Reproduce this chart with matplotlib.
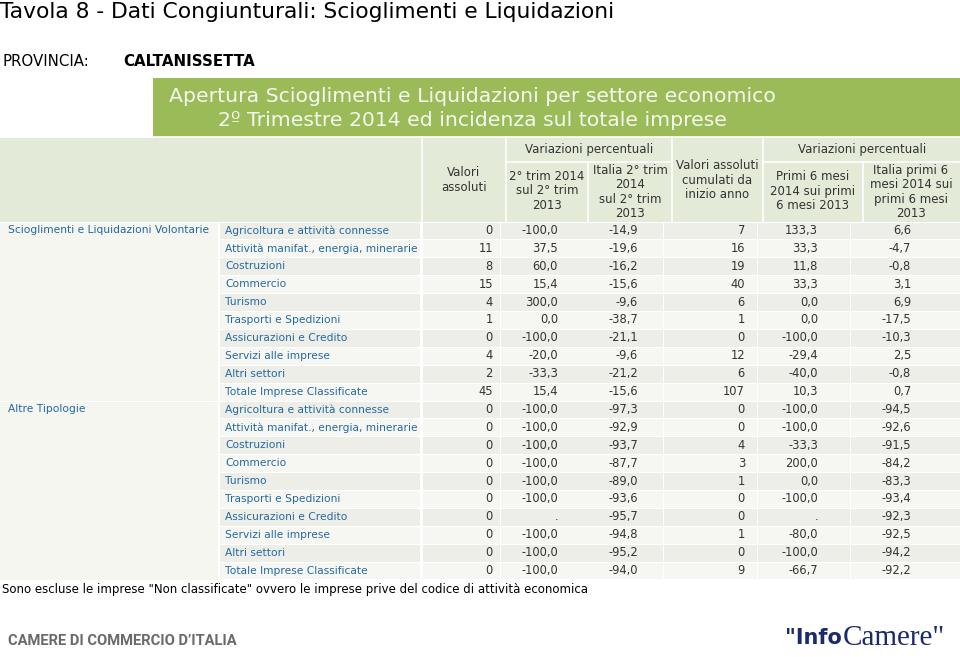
import matplotlib.pyplot as plt
from matplotlib.patches import Rectangle

# dati della tabella
categorie = ["Scioglimenti e Liquidazioni Volontarie", "Altre Tipologie"]
settori = ["Agricoltura e attività connesse",
           "Attività manifat., energia, minerarie",
           "Costruzioni", "Commercio", "Turismo",
           "Trasporti e Spedizioni", "Assicurazioni e Credito",
           "Servizi alle imprese", "Altri settori",
           "Totale Imprese Classificate"]

# Scioglimenti e Liquidazioni Volontarie
vol_valori = [0, 11, 8, 15, 4, 1, 0, 4, 2, 45]
vol_var_trim = [-100.0, 37.5, 60.0, 15.4, 300.0, 0.0, -100.0, -20.0, -33.3, 15.4]
vol_ita_trim = [-14.9, -19.6, -16.2, -15.6, -9.6, -38.7, -21.1, -9.6, -21.2, -15.6]
vol_cumulati = [7, 16, 19, 40, 6, 1, 0, 12, 6, 107]
vol_var_sem = [133.3, 33.3, 11.8, 33.3, 0.0, 0.0, -100.0, -29.4, -40.0, 10.3]
vol_ita_sem = [6.6, -4.7, -0.8, 3.1, 6.9, -17.5, -10.3, 2.5, -0.8, 0.7]

# Altre Tipologie
alt_valori = [0, 0, 0, 0, 0, 0, 0, 0, 0, 0]
alt_var_trim = [-100.0, -100.0, -100.0, -100.0, -100.0, -100.0, None, -100.0, -100.0, -100.0]
alt_ita_trim = [-97.3, -92.9, -93.7, -87.7, -89.0, -93.6, -95.7, -94.8, -95.2, -94.0]
alt_cumulati = [0, 0, 4, 3, 1, 0, 0, 1, 0, 9]
alt_var_sem = [-100.0, -100.0, -33.3, 200.0, 0.0, -100.0, None, -80.0, -100.0, -66.7]
alt_ita_sem = [-94.5, -92.6, -91.5, -84.2, -83.3, -93.4, -92.3, -92.5, -94.2, -92.2]

intestazioni = ["Valori\nassoluti",
                "2° trim 2014\nsul 2° trim\n2013",
                "Italia 2° trim\n2014\nsul 2° trim\n2013",
                "Valori assoluti\ncumulati da\ninizio anno",
                "Primi 6 mesi\n2014 sui primi\n6 mesi 2013",
                "Italia primi 6\nmesi 2014 sui\nprimi 6 mesi\n2013"]

GREEN = "#9BBB59"
HEAD_BG = "#E4EAD8"
ROW_DARK = "#EDEEE8"
ROW_LIGHT = "#F6F7F2"
CAT_BG = "#F4F6EF"
BLUE = "#2468A2"
TXT = "#333333"


def fmt(v, dec):
    if v is None:
        return "."
    if dec:
        return ("%.1f" % v).replace(".", ",")
    return str(v)


fig = plt.figure(figsize=(9.6, 6.57), dpi=100)
ax = fig.add_axes([0, 0, 1, 1])
ax.set_xlim(0, 960)
ax.set_ylim(657, 0)
ax.axis("off")

ax.text(0, 12, "Tavola 8 - Dati Congiunturali: Scioglimenti e Liquidazioni",
        fontsize=15.7, va="center", ha="left", color="black")
ax.text(2, 62, "PROVINCIA:", fontsize=10.8, va="center", color="black")
ax.text(123, 62, "CALTANISSETTA", fontsize=10.8, va="center", weight="bold", color="black")

# fascia verde
ax.add_patch(Rectangle((153, 78), 807, 59, color=GREEN, lw=0))
ax.text(472, 96, "Apertura Scioglimenti e Liquidazioni per settore economico",
        fontsize=14.7, ha="center", va="center", color="#F4F7EE")
ax.text(472, 121, "2º Trimestre 2014 ed incidenza sul totale imprese",
        fontsize=14.7, ha="center", va="center", color="#F4F7EE")

# intestazione
ax.add_patch(Rectangle((0, 137), 960, 85, color=HEAD_BG, lw=0))
for x in [422, 506, 672, 763]:
    ax.plot([x, x], [137, 222], color="white", lw=1.2)
for x in [588, 863]:
    ax.plot([x, x], [162, 222], color="white", lw=1.2)
ax.plot([506, 672], [162, 162], color="white", lw=1.2)
ax.plot([763, 960], [162, 162], color="white", lw=1.2)
ax.plot([0, 960], [137, 137], color="white", lw=1.2)

ax.text(589, 150, "Variazioni percentuali", fontsize=8.5, ha="center", va="center", color=TXT)
ax.text(862, 150, "Variazioni percentuali", fontsize=8.5, ha="center", va="center", color=TXT)
head_x = [464, 547, 630, 717, 813, 911]
head_y = [180, 191, 192, 180, 191, 192]
for hx, hy, t in zip(head_x, head_y, intestazioni):
    ax.text(hx, hy, t, fontsize=8.5, ha="center", va="center", color=TXT,
            linespacing=1.13, multialignment="center")

# righe di dati
gruppi = [
    [vol_valori, vol_var_trim, vol_ita_trim, vol_cumulati, vol_var_sem, vol_ita_sem],
    [alt_valori, alt_var_trim, alt_ita_trim, alt_cumulati, alt_var_sem, alt_ita_sem],
]
decimali = [False, True, True, False, True, True]
col_right = [493, 558, 638, 745, 818, 911]
cell_edges = [422, 500, 663, 757, 850, 960]
y0 = 221.5
h = 17.9

for g, cat in enumerate(categorie):
    top = y0 + g * 10 * h
    ax.add_patch(Rectangle((0, top + 1), 218, 10 * h - 1, color=CAT_BG, lw=0))
    ax.text(8, top + h / 2, cat, fontsize=7.7, ha="left", va="center", color=BLUE)
    for i, sett in enumerate(settori):
        r = g * 10 + i
        yt = y0 + r * h
        bg = ROW_DARK if i % 2 == 0 else ROW_LIGHT
        ax.add_patch(Rectangle((220, yt + 1), 200, h - 1, color=bg, lw=0))
        for a, b in zip(cell_edges[:-1], cell_edges[1:]):
            ax.add_patch(Rectangle((a + 1, yt + 1), b - a - 1, h - 1, color=bg, lw=0))
        ax.text(225, yt + h / 2, sett, fontsize=7.7, ha="left", va="center", color=BLUE)
        for c in range(6):
            ax.text(col_right[c], yt + h / 2, fmt(gruppi[g][c][i], decimali[c]),
                    fontsize=8.3, ha="right", va="center", color=TXT)

ax.text(2, 590, 'Sono escluse le imprese "Non classificate" ovvero le imprese prive del codice di attività economica',
        fontsize=8.5, ha="left", va="center", color="black")

# loghi
ax.text(8, 641, "CAMERE DI COMMERCIO D\u2019ITALIA", fontsize=10.6, ha="left", va="center",
        color="#6A6A6A", weight="bold", family="Roboto")
t1 = ax.text(785, 638, '"Info', fontsize=15, ha="left", va="center", color="#1B2A6B", weight="bold")
fig.canvas.draw()
bb = t1.get_window_extent()
x_end = ax.transData.inverted().transform((bb.x1, bb.y0))[0]
ax.text(x_end + 1, 638, 'Camere"', fontsize=21, ha="left", va="center", color="#1B2A6B",
        family=["Liberation Serif", "DejaVu Serif"])

fig.savefig("out.png", dpi=100, facecolor="white")
